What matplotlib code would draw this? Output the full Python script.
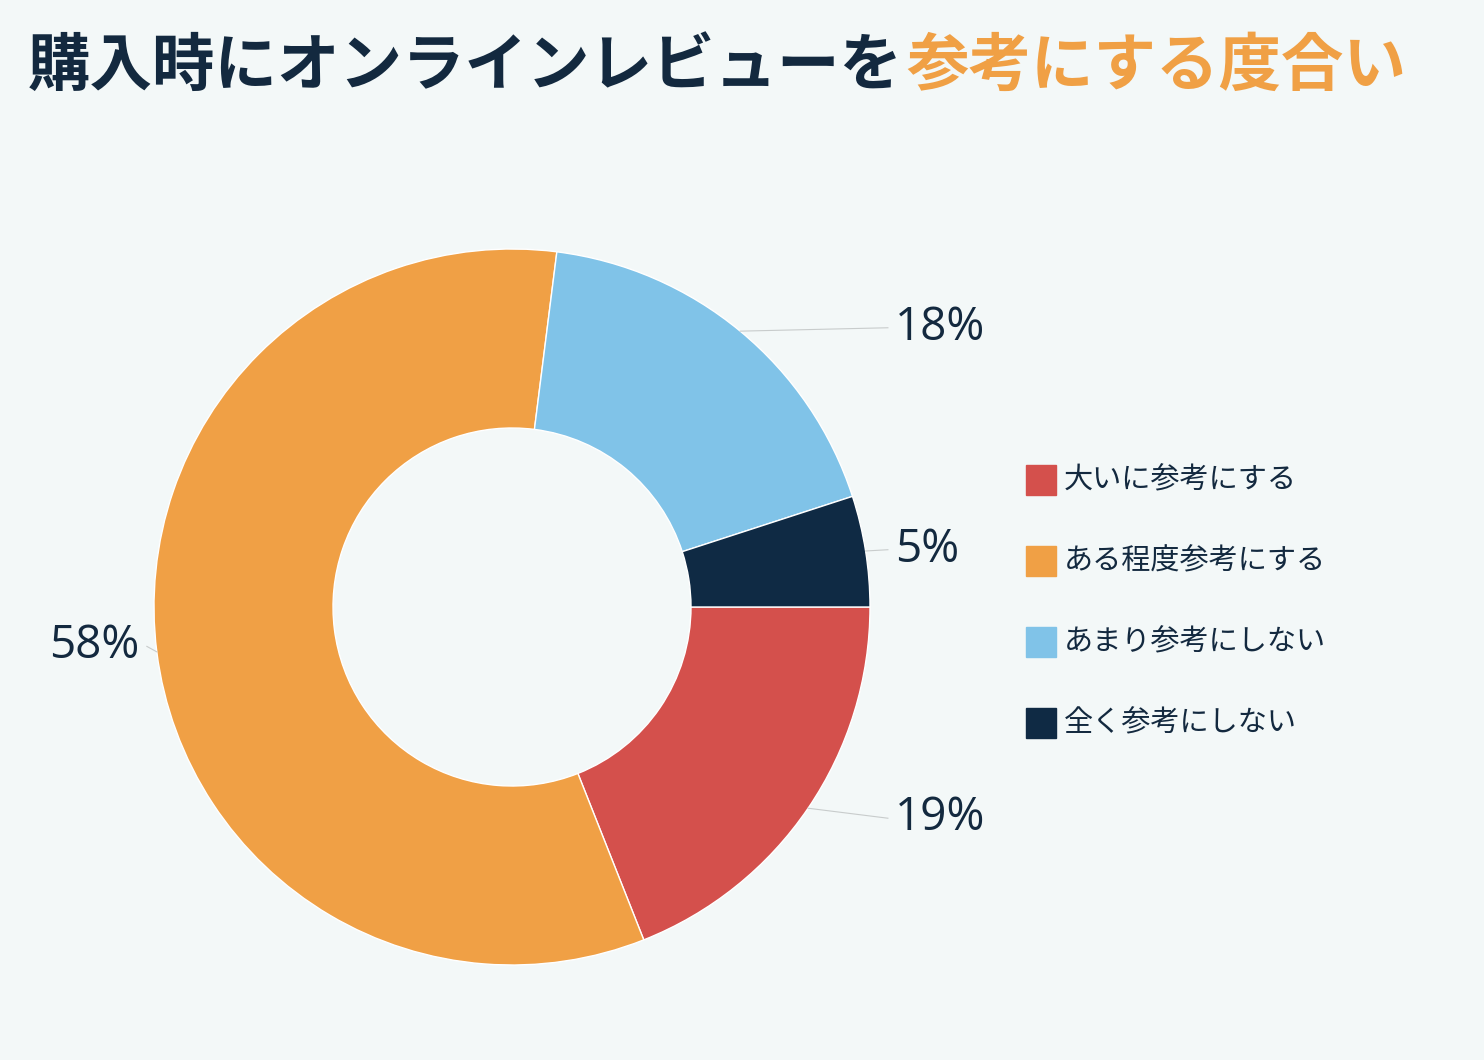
import matplotlib.pyplot as plt
import numpy as np

categories = ["大いに参考にする", "ある程度参考にする", "あまり参考にしない", "全く参考にしない"]
shares = [19, 58, 18, 5]
colors = ["#d4504c", "#f0a045", "#80c3e8", "#0f2a44"]
bg = "#f3f8f8"
navy = "#13293f"

plt.rcParams["font.family"] = "Noto Sans CJK JP"

W, H = 1484, 1060
R = 358  # outer radius in pixels
cx, cy = 512, 607

fig = plt.figure(figsize=(W / 100, H / 100), dpi=100, facecolor=bg)
ax = fig.add_axes([(cx - R) / W, 1 - (cy + R) / H, 2 * R / W, 2 * R / H])
ax.set_facecolor(bg)
wedges, _ = ax.pie(shares, colors=colors, startangle=0, counterclock=False,
                   radius=1.0, wedgeprops=dict(width=0.5, edgecolor="white", linewidth=1))
ax.set_xlim(-1, 1)
ax.set_ylim(-1, 1)
ax.set_aspect("equal")
ax.axis("off")

# percentage labels with leader lines
label_pos = {0: (1.05, -0.59), 1: (-1.02, -0.11), 2: (1.05, 0.78), 3: (1.05, 0.16)}
for i, w in enumerate(wedges):
    mid = np.deg2rad((w.theta1 + w.theta2) / 2)
    x0, y0 = np.cos(mid), np.sin(mid)
    tx, ty = label_pos[i]
    ax.plot([x0, tx], [y0, ty], color="#c8cccc", lw=0.8, clip_on=False)
    ax.text(tx + (0.02 if tx > 0 else -0.02), ty, f"{shares[i]}%",
            ha="left" if tx > 0 else "right", va="center",
            fontsize=33, color=navy, family="Open Sans")

# legend
for i, (c, name) in enumerate(zip(colors, categories)):
    y = 1 - (480 + i * 81) / H
    fig.patches.append(plt.Rectangle((1026 / W, y - 15 / H), 30 / W, 30 / H,
                                     transform=fig.transFigure, color=c))
    fig.text(1064 / W, y, name, fontsize=21, color=navy, va="center")

# two-colour title
t1 = fig.text(28 / W, 1 - 66 / H, "購入時にオンラインレビューを", fontsize=45,
              fontweight="bold", color=navy, va="center")
fig.canvas.draw()
bb = t1.get_window_extent()
fig.text(bb.x1 / W + 0.002, 1 - 66 / H, "参考にする度合い", fontsize=45,
         fontweight="bold", color="#f0a045", va="center")

fig.savefig("out.png", dpi=100, facecolor=bg)
